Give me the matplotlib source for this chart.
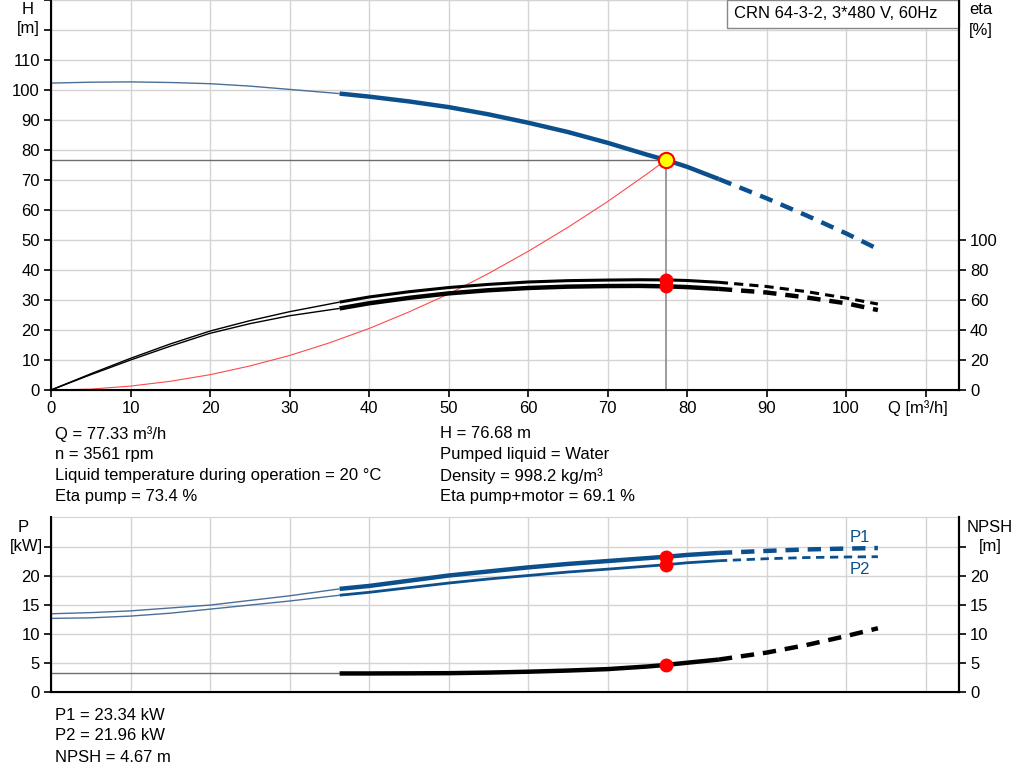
import matplotlib
matplotlib.use('Agg')
import matplotlib.pyplot as plt
from matplotlib.patches import Rectangle
import numpy as np

plt.rcParams['font.family'] = ['Liberation Sans', 'DejaVu Sans']
plt.rcParams['font.size'] = 12

BLUE = '#0b4f8c'
GRID = '#d4d4d4'
W, H = 1024, 781

# duty point
q_duty = 77.33
h_duty = 76.68
eta_p_duty = 73.4
eta_pm_duty = 69.1
p1_duty = 23.34
p2_duty = 21.96
npsh_duty = 4.67

# H curve (m)
q_h = [0, 5, 10, 15, 20, 25, 30, 36.3, 40, 45, 50, 55, 60, 65, 70, 75, 77.33, 80, 84, 90, 95, 100, 104]
h = [102.3, 102.6, 102.7, 102.5, 102.1, 101.3, 100.2, 98.8, 97.8, 96.2, 94.3, 91.9, 89.1, 86.0, 82.4, 78.4, 76.68, 74.4, 70.3, 63.9, 58.2, 52.2, 47.0]

# efficiency curves (%)
q_eta = [0, 5, 10, 15, 20, 25, 30, 36.3, 40, 45, 50, 55, 60, 65, 70, 74, 77.33, 80, 84, 90, 95, 100, 104]
eta_pump = [0, 10.8, 21.1, 30.7, 39.3, 46.2, 52.2, 58.6, 62.0, 65.5, 68.3, 70.4, 72.0, 72.9, 73.3, 73.5, 73.4, 73.0, 71.8, 69.0, 65.6, 61.3, 57.3]
eta_pm = [0, 10.2, 20.0, 29.2, 37.8, 44.2, 49.5, 54.4, 57.8, 61.4, 64.4, 66.5, 68.0, 68.9, 69.3, 69.4, 69.1, 68.6, 67.4, 65.0, 61.7, 57.8, 53.3]

# system curve (m)
q_sys = [0, 5, 10, 15, 20, 25, 30, 35, 40, 45, 50, 55, 60, 65, 70, 75, 77.33]
h_sys = [0, 0.3, 1.3, 2.9, 5.1, 8.0, 11.5, 15.7, 20.5, 26.0, 32.0, 38.8, 46.2, 54.2, 62.8, 72.1, 76.68]

# power curves (kW)
q_p = [0, 5, 10, 15, 20, 25, 30, 36.3, 40, 45, 50, 55, 60, 65, 70, 77.33, 80, 84, 90, 95, 100, 104]
p1 = [13.5, 13.7, 14.0, 14.5, 15.0, 15.8, 16.6, 17.8, 18.3, 19.2, 20.1, 20.8, 21.5, 22.1, 22.6, 23.34, 23.65, 24.0, 24.35, 24.6, 24.75, 24.85]
p2 = [12.7, 12.8, 13.1, 13.6, 14.3, 15.0, 15.7, 16.7, 17.2, 18.0, 18.8, 19.5, 20.1, 20.7, 21.2, 21.96, 22.3, 22.65, 23.0, 23.2, 23.3, 23.35]

# NPSH curve (m)
q_npsh = [0, 36.3, 40, 45, 50, 55, 60, 65, 70, 75, 77.33, 80, 84, 90, 95, 100, 104]
npsh = [3.2, 3.2, 3.2, 3.22, 3.25, 3.35, 3.5, 3.7, 3.95, 4.4, 4.67, 5.05, 5.6, 6.8, 8.1, 9.65, 11.0]

q_lo, q_hi = 36.3, 84.0


def split(q, y):
    q = np.asarray(q, float)
    y = np.asarray(y, float)
    a = q <= q_lo
    b = (q >= q_lo) & (q <= q_hi)
    c = q >= q_hi
    return (q[a], y[a]), (q[b], y[b]), (q[c], y[c])


def draw(ax, q, y, color, lw, thin_color=None):
    thin, mid, tail = split(q, y)
    ax.plot(*thin, color=thin_color or color, lw=1.0, solid_capstyle='butt')
    ax.plot(*mid, color=color, lw=lw, solid_capstyle='butt', solid_joinstyle='round')
    ax.plot(*tail, color=color, lw=lw, ls=(0, (3, 2)), dash_capstyle='butt')


def style(ax):
    ax.set_xlim(0, 114.2)
    ax.set_xticks(np.arange(0, 111, 10))
    ax.grid(True, color=GRID, lw=1)
    ax.set_axisbelow(True)
    for s in ['left', 'right', 'bottom']:
        ax.spines[s].set_linewidth(1.5)
    ax.spines['top'].set_color(GRID)
    ax.tick_params(length=5, width=1.2, pad=3, colors='black')


def ftext(x, y, s, **kw):
    fig.text(x / W, 1 - y / H, s, **kw)


fig = plt.figure(figsize=(10.24, 7.81), dpi=100)

# ---- top panel: H and eta
ax = fig.add_axes([51 / W, 1 - 390 / H, 908 / W, 390 / H])
style(ax)
ax.set_ylim(0, 130)
ax.set_yticks(np.arange(0, 131, 10))
ax.set_yticklabels([str(v) if v <= 110 else '' for v in range(0, 131, 10)])
for t in ax.yaxis.get_major_ticks()[-2:]:
    t.tick1line.set_visible(False)
ax.set_xticklabels([str(v) for v in range(0, 101, 10)] + [''])

ax2 = ax.twinx()
ax2.set_ylim(0, 260)
ax2.set_yticks(np.arange(0, 101, 20))
ax2.tick_params(length=5, width=1.2, pad=3)
ax2.spines['right'].set_linewidth(1.5)
ax2.spines['top'].set_visible(False)

ax.plot([0, q_duty], [h_duty, h_duty], color='#6e6e6e', lw=1)
ax.plot([q_duty, q_duty], [0, h_duty], color='#8a8a8a', lw=1.2)
ax.plot(q_sys, h_sys, color='#ff4a4a', lw=0.8)
draw(ax, q_h, h, BLUE, 3.2, thin_color='#4a6f98')
draw(ax2, q_eta, eta_pump, 'black', 2.2)
draw(ax2, q_eta, eta_pm, 'black', 3.2)
ax2.plot([q_duty, q_duty], [eta_p_duty, eta_pm_duty], color='red',
         marker='o', ms=9, lw=0, zorder=5)
ax.plot(q_duty, h_duty, marker='o', ms=11, mfc='#ffff00', mec='red', mew=1.5, zorder=6)

ax.add_patch(Rectangle((676 / 908, 1 - 28 / 390), 232 / 908, 28 / 390, transform=ax.transAxes,
                       fc='white', ec='#888888', lw=1, zorder=7, clip_on=False))
ax.text(683 / 908, 1 - 14 / 390, 'CRN 64-3-2, 3*480 V, 60Hz', transform=ax.transAxes,
        ha='left', va='center', zorder=8)

ftext(28, 10, 'H', ha='center', va='center')
ftext(28, 29, '[m]', ha='center', va='center')
ftext(981, 10, 'eta', ha='center', va='center')
ftext(981, 30, '[%]', ha='center', va='center')
ftext(918, 408, 'Q [m³/h]', ha='center', va='center')

left = ['Q = 77.33 m³/h', 'n = 3561 rpm', 'Liquid temperature during operation = 20 °C', 'Eta pump = 73.4 %']
right = ['H = 76.68 m', 'Pumped liquid = Water', 'Density = 998.2 kg/m³', 'Eta pump+motor = 69.1 %']
for i, (a, b) in enumerate(zip(left, right)):
    ftext(55, 434 + 21 * i, a, va='center')
    ftext(440, 434 + 21 * i, b, va='center')

# ---- bottom panel: P and NPSH
bx = fig.add_axes([51 / W, 1 - 692 / H, 908 / W, 175 / H])
style(bx)
bx.set_ylim(0, 30.2)
bx.set_yticks([0, 5, 10, 15, 20, 25])
bx.set_yticklabels(['0', '5', '10', '15', '20', ''])
bx.tick_params(axis='x', length=0, labelbottom=False)

bx2 = bx.twinx()
bx2.set_ylim(0, 30.2)
bx2.set_yticks([0, 5, 10, 15, 20, 25])
bx2.set_yticklabels(['0', '5', '10', '15', '20', ''])
bx2.tick_params(length=5, width=1.2, pad=3)
bx2.spines['right'].set_linewidth(1.5)
bx2.spines['top'].set_visible(False)

draw(bx, q_p, p1, BLUE, 3.2, thin_color='#4a6f98')
draw(bx, q_p, p2, BLUE, 2.0, thin_color='#4a6f98')
draw(bx2, q_npsh, npsh, 'black', 3.2, thin_color='#6e6e6e')
bx.plot([q_duty, q_duty], [p1_duty, p2_duty], color='red', marker='o', ms=9, lw=0, zorder=5)
bx2.plot(q_duty, npsh_duty, color='red', marker='o', ms=9, zorder=5)

ftext(860, 537, 'P1', color=BLUE, ha='center', va='center')
ftext(860, 570, 'P2', color=BLUE, ha='center', va='center')
ftext(23, 527, 'P', ha='center', va='center')
ftext(26, 547, '[kW]', ha='center', va='center')
ftext(990, 527, 'NPSH', ha='center', va='center')
ftext(990, 547, '[m]', ha='center', va='center')

for i, s in enumerate(['P1 = 23.34 kW', 'P2 = 21.96 kW', 'NPSH = 4.67 m']):
    ftext(55, 715 + 21 * i, s, va='center')

fig.savefig('out.png', dpi=100)
